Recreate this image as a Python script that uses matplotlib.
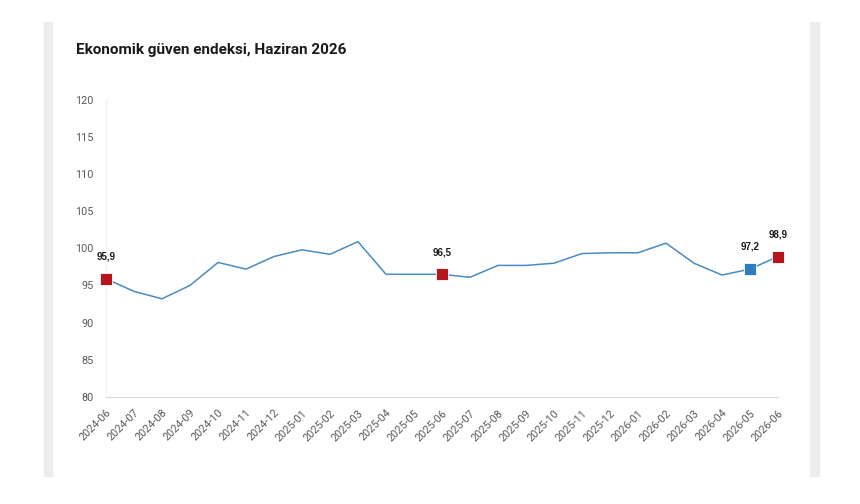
import matplotlib.pyplot as plt
from matplotlib.patches import Rectangle

plt.rcParams['font.family'] = ['Roboto', 'DejaVu Sans']

# Monthly index values
months = ["2024-06", "2024-07", "2024-08", "2024-09", "2024-10", "2024-11", "2024-12",
          "2025-01", "2025-02", "2025-03", "2025-04", "2025-05", "2025-06", "2025-07",
          "2025-08", "2025-09", "2025-10", "2025-11", "2025-12", "2026-01", "2026-02",
          "2026-03", "2026-04", "2026-05", "2026-06"]
values = [95.9, 94.2, 93.2, 95.0, 98.1, 97.2, 98.9, 99.8, 99.2, 100.9, 96.5, 96.5, 96.5,
          96.1, 97.7, 97.7, 98.0, 99.3, 99.4, 99.4, 100.7, 98.0, 96.4, 97.2, 98.9]
# highlighted points
red_months = ["2024-06", "2025-06", "2026-06"]
blue_months = ["2026-05"]
yticks = [80, 85, 90, 95, 100, 105, 110, 115, 120]

fig = plt.figure(figsize=(8.6, 5.04), dpi=100)
fig.patch.set_facecolor("white")

# light gray side bars of the card
fig.patches.append(Rectangle((44 / 860, 1 - 476 / 504), 8 / 860, 454 / 504,
                             transform=fig.transFigure, color="#ededed", zorder=0))
fig.patches.append(Rectangle((810 / 860, 1 - 476 / 504), 9 / 860, 454 / 504,
                             transform=fig.transFigure, color="#ededed", zorder=0))

ax = fig.add_axes([106 / 860, 1 - 396.7 / 504, (778 - 106) / 860, (396.7 - 100) / 504])
x = list(range(len(months)))
ax.plot(x, values, color="#4a8bc2", linewidth=1.1, zorder=2)

for m in red_months + blue_months:
    i = months.index(m)
    c = "#b5151d" if m in red_months else "#2e7dc0"
    ax.plot(i, values[i], marker="s", markersize=9, color=c, clip_on=False,
            markeredgecolor="white", markeredgewidth=0.6, zorder=3)
    ax.annotate(f"{values[i]:.1f}".replace(".", ","), (i, values[i]),
                xytext=(0, 16), textcoords="offset points", ha="center", va="center",
                fontsize=7, fontweight="bold", color="#1a1a1a",
                family=["Liberation Sans Narrow", "Liberation Sans", "DejaVu Sans"])

ax.set_xlim(0, len(months) - 1)
ax.set_ylim(80, 120)
ax.set_yticks(yticks)
ax.set_xticks(x)
ax.set_xticklabels(months, rotation=45, ha="right", rotation_mode="anchor")
ax.tick_params(axis="both", length=0, colors="#595959", labelsize=7.8)
ax.tick_params(axis="y", pad=9)
ax.tick_params(axis="x", pad=8)
for side in ["top", "right"]:
    ax.spines[side].set_visible(False)
ax.spines["left"].set_color("#f0f0f0")
ax.spines["bottom"].set_color("#d9d9d9")
ax.spines["left"].set_linewidth(0.8)
ax.spines["bottom"].set_linewidth(0.8)

fig.text(76 / 860, 1 - 50 / 504, "Ekonomik güven endeksi, Haziran 2026",
         fontsize=11, fontweight="bold", color="#1a1a1a", va="center", ha="left")

fig.savefig("out.png", dpi=100)
